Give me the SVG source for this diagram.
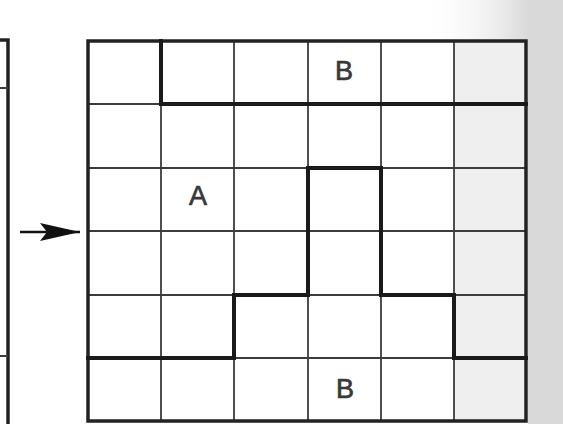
<svg xmlns="http://www.w3.org/2000/svg" width="563" height="424" viewBox="0 0 563 424">
<style>
.thin{stroke:#3c3c3c;stroke-width:1.8;fill:none}
.thick{stroke:#1a1a1a;stroke-width:4;fill:none;stroke-linejoin:miter;stroke-linecap:square}
.border{stroke:#222222;stroke-width:3.5;fill:none}
.lbl{font-family:"Liberation Sans",Arial,sans-serif;font-size:27px;fill:#383838;text-anchor:middle;stroke:#383838;stroke-width:0.7}
</style>
<defs>
<linearGradient id="bg" x1="0" y1="0" x2="1" y2="0">
<stop offset="0" stop-color="#ffffff" stop-opacity="0"/>
<stop offset="1" stop-color="#d8d8d8"/>
</linearGradient>
<marker id="ah" viewBox="0 0 40 22" refX="40" refY="11" markerWidth="40" markerHeight="22" markerUnits="userSpaceOnUse" orient="auto">
<path d="M0,2 L40,11 L0,20 L7,11 Z" fill="#111"/>
</marker>
</defs>
<rect width="563" height="424" fill="#ffffff"/>
<rect x="420" y="0" width="110" height="40" fill="url(#bg)"/>
<rect x="528" y="0" width="35" height="424" fill="#d9d9d9"/>
<rect x="455" y="42" width="70" height="378" fill="#efefef"/>
<g id="left-frame">
<path class="border" d="M0,40 L8,40 L8,424"/>
<path class="thin" d="M0,88 L8,88 M0,356 L8,356"/>
</g>
<g id="grid">
<path class="thin" d="M161,41 V421 M234,41 V421 M308,41 V421 M381,41 V421 M454,41 V421 M88,104 H526 M88,168 H526 M88,231 H526 M88,295 H526 M88,358 H526"/>
<rect class="border" x="88" y="41" width="438" height="380"/>
</g>
<g id="region-boundaries">
<path class="thick" d="M161,41 V104 H526"/>
<path class="thick" d="M88,358 H234 V295 H308 V168 H381 V295 H454 V358 H526"/>
</g>
<g id="labels">
<text class="lbl" x="344" y="80">B</text>
<text class="lbl" x="198" y="205">A</text>
<text class="lbl" x="345" y="398">B</text>
</g>
<g id="connectors">
<line x1="20" y1="232" x2="80" y2="232" stroke="#111" stroke-width="2.5" marker-end="url(#ah)"/>
</g>
</svg>
